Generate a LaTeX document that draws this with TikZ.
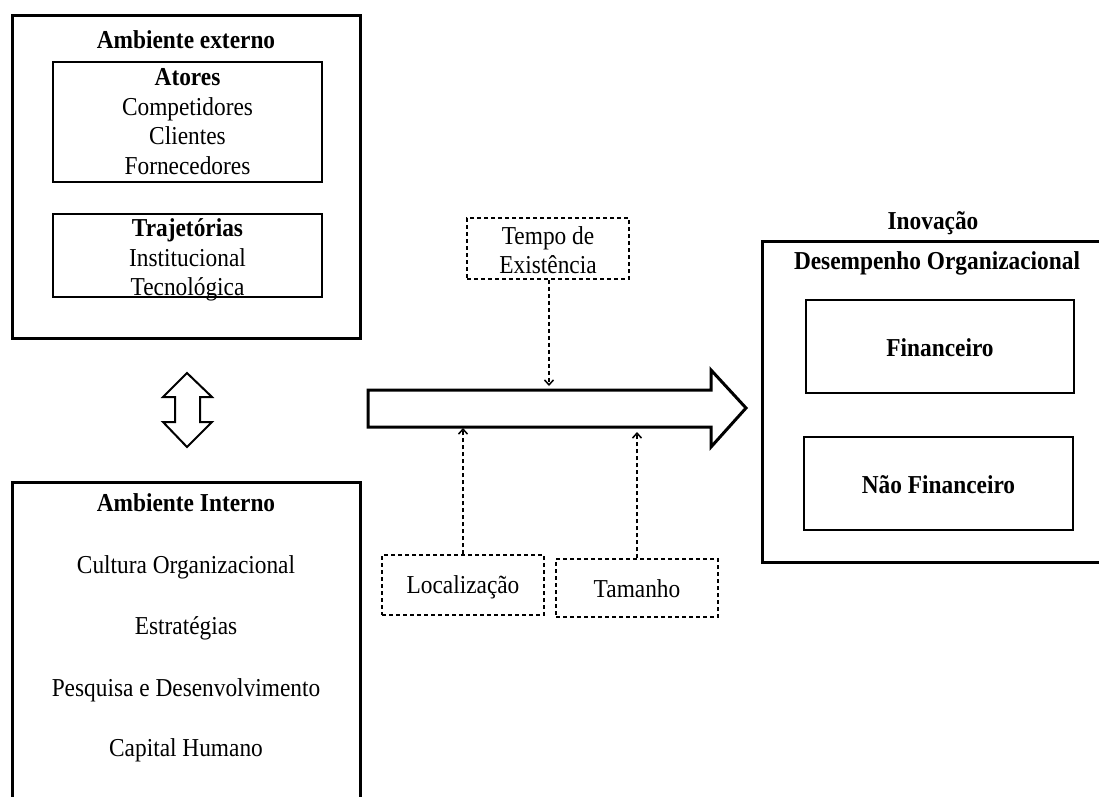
\documentclass[tikz,border=0pt]{standalone}
\usepackage{fontspec}
\setmainfont[FakeStretch=0.905]{Liberation Serif}
\usetikzlibrary{arrows.meta}
\tikzset{
  thickbox/.style={draw=black, line width=3pt, rectangle, inner sep=0pt},
  thinbox/.style={draw=black, line width=2pt, rectangle, inner sep=0pt},
  dashbox/.style={draw=black, line width=1.5pt, rectangle, inner sep=0pt, dash pattern=on 4pt off 3pt},
  txt/.style={inner sep=0pt, align=center, font=\fontsize{25.8}{29.5}\selectfont},
  btxt/.style={txt, font=\fontsize{25.8}{29.5}\selectfont\bfseries},
  darr/.style={line width=1.5pt, dash pattern=on 4pt off 3pt, -{Straight Barb[length=5pt,width=9pt,line width=1.5pt]}},
  bigarrow/.style={draw=black, line width=3pt, line join=miter, fill=white},
}
\begin{document}
\begin{tikzpicture}[x=1pt,y=-1pt]
\clip (0,0) rectangle (1099,796);
\fill[white] (0,0) rectangle (1099,796);

% Ambiente externo
\node[thickbox, minimum width=348, minimum height=323] (ext) at (186,176.5) {};
\node[btxt] (extT) at (186,40) {Ambiente externo};
\node[thinbox, minimum width=269, minimum height=120] (ato) at (187.5,122) {};
\node[txt] (atoT) at (187.5,121.5) {\textbf{Atores}\\Competidores\\Clientes\\Fornecedores};
\node[thinbox, minimum width=269, minimum height=83] (tra) at (187.5,255.5) {};
\node[txt] (traT) at (187.5,260) {\textbf{Trajetórias}\\Institucional\\Tecnológica};

% double arrow
\draw[line width=2pt, line join=miter] (187,373) -- (212,397) -- (200,397) -- (200,422) -- (212,422)
  -- (187,447) -- (163,422) -- (175,422) -- (175,397) -- (163,397) -- cycle;

% Ambiente Interno
\node[thickbox, minimum width=348, minimum height=360] (int) at (186,662) {};
\node[btxt] (intT) at (186,503) {Ambiente Interno};
\node[txt] (i1) at (186,567) {Cultura Organizacional};
\node[txt] (i2) at (186,628) {Estratégias};
\node[txt] (i3) at (186,690) {Pesquisa e Desenvolvimento};
\node[txt] (i4) at (186,750) {Capital Humano};

% big arrow
\draw[bigarrow] (368,390) -- (711,390) -- (711,370) -- (746,408) -- (711,447) -- (711,427) -- (368,427) -- cycle;
\coordinate (aTop) at (549,386);
\coordinate (aBotL) at (463,428);
\coordinate (aBotR) at (637,432);

% dashed boxes
\node[dashbox, minimum width=162, minimum height=61] (tempo) at (548,248.5) {};
\node[txt] (tempoT) at (548,250) {Tempo de\\Existência};
\node[dashbox, minimum width=162, minimum height=60] (loc) at (463,585) {};
\node[txt] (locT) at (463,587) {Localização};
\node[dashbox, minimum width=162, minimum height=58] (tam) at (637,588) {};
\node[txt] (tamT) at (637,589) {Tamanho};

\draw[darr] (tempo.south -| aTop) -- (aTop);
\draw[darr] (loc.north) -- (aBotL);
\draw[darr] (tam.north) -- (aBotR);

% right side
\node[btxt] (inov) at (933,223) {Inovação};
\node[thickbox, minimum width=358, minimum height=321] (des) at (941,401.5) {};
\node[btxt] (desT) at (937,263) {Desempenho Organizacional};
\node[thinbox, minimum width=268, minimum height=93] (fin) at (940,346.5) {};
\node[btxt] (finT) at (940,348) {Financeiro};
\node[thinbox, minimum width=269, minimum height=93] (nfin) at (938.5,483.5) {};
\node[btxt] (nfinT) at (938.5,485) {Não Financeiro};
\end{tikzpicture}
\end{document}
